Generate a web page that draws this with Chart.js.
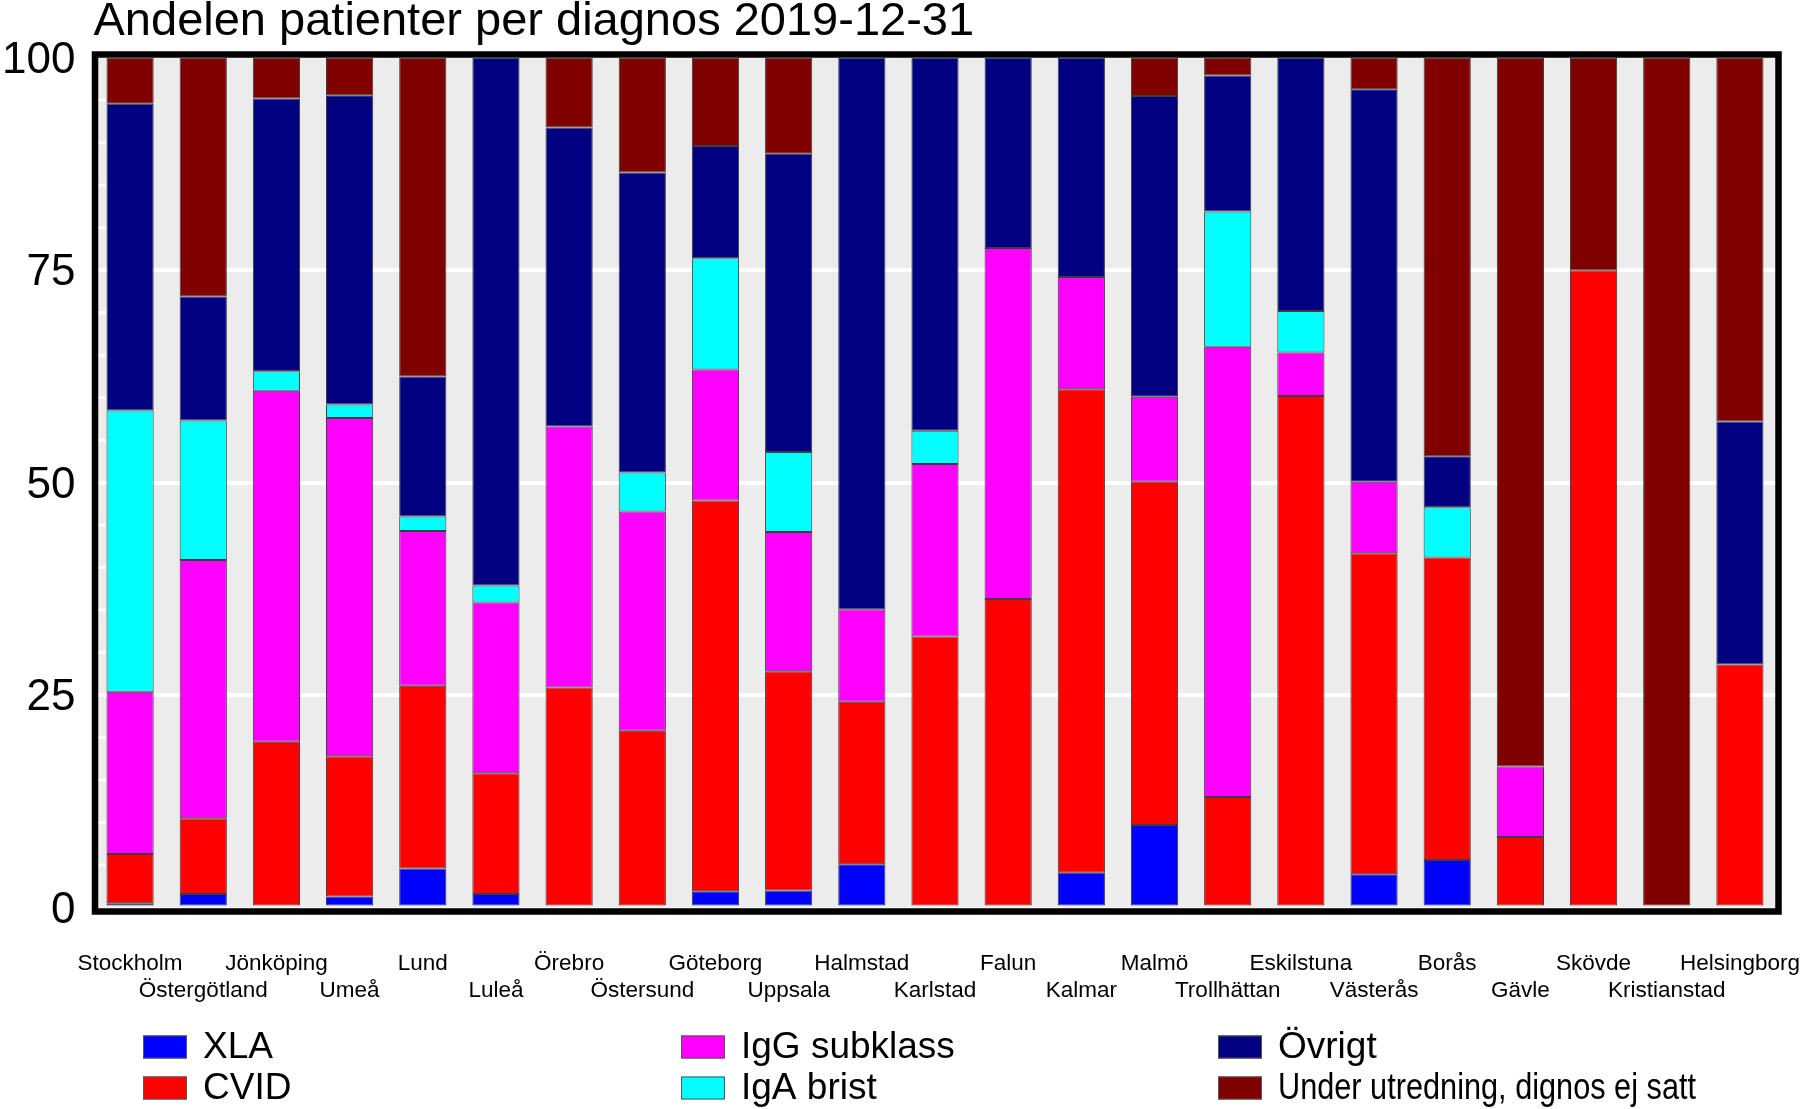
<!DOCTYPE html>
<html>
<head>
<meta charset="utf-8">
<script src="https://cdn.jsdelivr.net/npm/chart.js"></script>
<style>
  html, body { margin: 0; padding: 0; background: #fff; }
  #wrap { width: 1806px; height: 1109px; }
</style>
</head>
<body>
<div id="wrap"><canvas id="myChart" width="1806" height="1109"></canvas></div>
<script>
const categories = ['Stockholm', 'Östergötland', 'Jönköping', 'Umeå', 'Lund', 'Luleå', 'Örebro',
  'Östersund', 'Göteborg', 'Uppsala', 'Halmstad', 'Karlstad', 'Falun', 'Kalmar', 'Malmö',
  'Trollhättan', 'Eskilstuna', 'Västerås', 'Borås', 'Gävle', 'Skövde', 'Kristianstad', 'Helsingborg'];

// andel (%) per diagnos, bottom to top in each bar
const xla     = [0.5, 1.6, 0, 1.3, 4.6, 1.6, 0, 0, 1.9, 2.0, 5.1, 0, 0, 4.1, 9.7, 0, 0, 3.9, 5.6, 0, 0, 0, 0];
const cvid    = [5.8, 8.9, 19.5, 16.5, 21.5, 14.2, 25.9, 20.8, 46.0, 25.8, 19.1, 31.9, 36.3, 56.9, 40.4, 13.0, 60.2, 37.8, 35.6, 8.3, 75, 0, 28.6];
const iggSub  = [19.1, 30.4, 41.3, 39.8, 18.2, 20.1, 30.7, 25.8, 15.4, 16.4, 10.9, 20.3, 41.3, 13.2, 10.0, 53.0, 5.1, 8.4, 0, 8.3, 0, 0, 0];
const igaBrist = [33.1, 16.4, 2.3, 1.6, 1.7, 2.0, 0, 4.6, 13.1, 9.4, 0, 3.9, 0, 0, 0, 15.9, 4.9, 0, 5.9, 0, 0, 0, 0];
const ovrigt  = [36.1, 14.6, 32.1, 36.4, 16.5, 62.1, 35.2, 35.3, 13.2, 35.1, 64.9, 43.9, 22.4, 25.8, 35.4, 16.0, 29.8, 46.2, 6.0, 0, 0, 0, 28.6];
const utredning = [5.4, 28.1, 4.8, 4.4, 37.5, 0, 8.2, 13.5, 10.4, 11.3, 0, 0, 0, 0, 4.5, 2.1, 0, 3.7, 46.9, 83.4, 25, 100, 42.8];

const yTicks = [0, 25, 50, 75, 100];

Chart.defaults.font.family = '"Liberation Sans", Arial, sans-serif';
Chart.defaults.color = '#000';

// two staggered label rows
const xLabels = categories.map((c, i) => i % 2 === 0 ? [c, ''] : ['', c]);

const ds = (label, data, color) => ({
  label: label,
  data: data,
  backgroundColor: color,
  borderColor: 'rgba(30,30,30,0.85)',
  borderWidth: 1,
  borderSkipped: false,
  barPercentage: 0.645,
  categoryPercentage: 1
});

const plotDecor = {
  id: 'plotDecor',
  beforeDraw(chart) {
    const { ctx, chartArea: a } = chart;
    ctx.save();
    ctx.fillStyle = '#ececec';
    ctx.fillRect(a.left, a.top, a.right - a.left, a.bottom - a.top);
    ctx.restore();
  },
  beforeDatasetsDraw(chart) {
    const { ctx, chartArea: a } = chart;
    const y = chart.scales.y;
    ctx.save();
    ctx.strokeStyle = '#fff';
    ctx.lineWidth = 3;
    for (let v = 5; v < 100; v += 5) {
      const py = y.getPixelForValue(v);
      ctx.beginPath();
      ctx.moveTo(a.left, py);
      ctx.lineTo(a.left + 12, py);
      ctx.stroke();
    }
    ctx.restore();
  },
  afterDatasetsDraw(chart) {
    const { ctx, chartArea: a } = chart;
    ctx.save();
    ctx.strokeStyle = '#000';
    ctx.lineWidth = 6.5;
    ctx.lineCap = 'square';
    ctx.beginPath();
    ctx.moveTo(a.left + 1.5, a.top - 3.3);
    ctx.lineTo(a.right + 2, a.top - 3.3);
    ctx.lineTo(a.right + 2, a.bottom + 4);
    ctx.lineTo(a.left + 1.5, a.bottom + 4);
    ctx.closePath();
    ctx.stroke();
    ctx.restore();
  },
  afterDraw(chart) {
    const { ctx } = chart;
    const colX = [143, 681, 1218];
    const rowY = [1047, 1088];
    ctx.save();
    ctx.font = '37px "Liberation Sans", Arial, sans-serif';
    ctx.textBaseline = 'middle';
    ctx.textAlign = 'left';
    chart.data.datasets.forEach((d, i) => {
      const x = colX[Math.floor(i / 2)];
      const y = rowY[i % 2];
      ctx.fillStyle = d.backgroundColor;
      ctx.fillRect(x, y - 11.5, 44, 23);
      ctx.strokeStyle = '#555';
      ctx.lineWidth = 1;
      ctx.strokeRect(x + 0.5, y - 11, 43, 22);
      ctx.fillStyle = '#000';
      ctx.fillText(d.label, x + 60, y + 1, 418);
    });
    ctx.restore();
  }
};

new Chart(document.getElementById('myChart'), {
  type: 'bar',
  data: {
    labels: xLabels,
    datasets: [
      ds('XLA', xla, '#0000ff'),
      ds('CVID', cvid, '#ff0000'),
      ds('IgG subklass', iggSub, '#ff00ff'),
      ds('IgA brist', igaBrist, '#00ffff'),
      ds('Övrigt', ovrigt, '#000080'),
      ds('Under utredning, dignos ej satt', utredning, '#800000')
    ]
  },
  options: {
    responsive: false,
    animation: false,
    layout: { padding: { left: 0, right: 29.5, top: 0, bottom: 0 } },
    plugins: {
      legend: { display: false },
      tooltip: { enabled: false },
      title: {
        display: true,
        text: 'Andelen patienter per diagnos 2019-12-31',
        align: 'start',
        fullSize: false,
        font: { size: 47, weight: 'normal', lineHeight: 0.92 },
        padding: { top: 0, bottom: 14.5 }
      }
    },
    scales: {
      x: {
        stacked: true,
        grid: { display: false, drawTicks: false },
        border: { display: false },
        ticks: {
          autoSkip: false,
          maxRotation: 0,
          minRotation: 0,
          padding: 43,
          font: { size: 22.5, lineHeight: 1.2 }
        },
        afterFit(scale) {
          scale.height = 201.5;
          scale.paddingLeft = 0;
          scale.paddingRight = 0;
        }
      },
      y: {
        stacked: true,
        min: 0,
        max: 100,
        afterBuildTicks(scale) { scale.ticks = yTicks.map(v => ({ value: v })); },
        grid: {
          drawTicks: false,
          lineWidth: 4,
          color: c => (c.tick && [25, 50, 75].includes(c.tick.value)) ? '#ffffff' : 'rgba(0,0,0,0)'
        },
        border: { display: false },
        ticks: {
          padding: 18,
          labelOffset: 3,
          font: { size: 44 }
        },
        afterFit(scale) { scale.width = 93.5; }
      }
    }
  },
  plugins: [plotDecor]
});
</script>
</body>
</html>
